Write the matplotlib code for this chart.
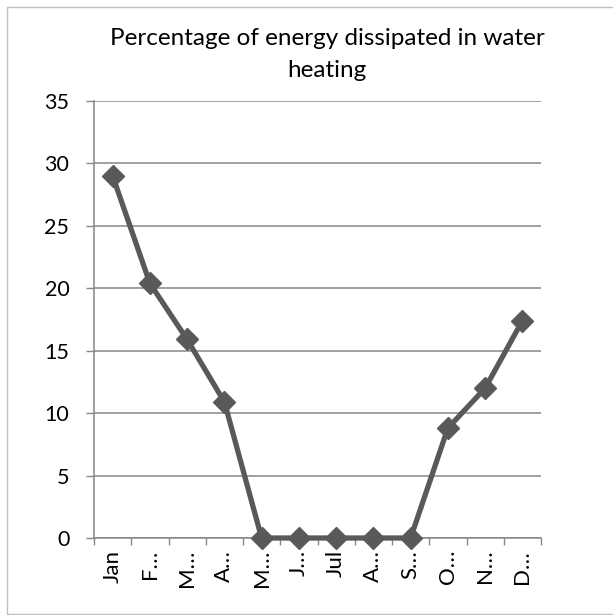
import matplotlib
matplotlib.use('Agg')
import matplotlib.pyplot as plt
from matplotlib.patches import Rectangle

# ---- data ----
months = ['Jan', 'F…', 'M…', 'A…', 'M…', 'J…', 'Jul', 'A…', 'S…', 'O…', 'N…', 'D…']
values = [29.0, 20.4, 15.9, 10.9, 0, 0, 0, 0, 0, 8.8, 12.0, 17.4]
yticks = [0, 5, 10, 15, 20, 25, 30, 35]
title_lines = ['Percentage of energy dissipated in water', 'heating']

W, H = 613, 615
plt.rcParams['font.family'] = ['Lato', 'DejaVu Sans']
fig = plt.figure(figsize=(W / 100, H / 100), dpi=100)

GRID = '#868686'
LINE = '#595959'

ax = fig.add_axes([94 / W, 1 - 538 / H, (541 - 94) / W, (538 - 101) / H])
x = list(range(len(months)))
ax.plot(x, values, color=LINE, lw=3.8, marker='D', ms=11, mfc=LINE, mec=LINE,
        solid_joinstyle='round', clip_on=False, zorder=3)
ax.set_xlim(-0.5, len(months) - 0.5)
ax.set_ylim(0, 35)
ax.set_yticks(yticks)
ax.set_xticks([i - 0.5 for i in range(len(months) + 1)])
ax.set_xticklabels([])
ax.set_xticks(x, minor=True)
ax.set_xticklabels(months, minor=True, rotation=90)
ax.tick_params(axis='x', which='minor', length=0, pad=8.5, labelsize=16, labelcolor='black')
ax.tick_params(axis='x', which='major', length=5, width=1, color=GRID)
ax.tick_params(axis='y', length=5.8, width=1, color=GRID, pad=12, labelsize=15.5, labelcolor='black')
ax.grid(axis='y', color=GRID, lw=1.1)
ax.set_axisbelow(True)
for s in ['top', 'right']:
    ax.spines[s].set_visible(False)
for s in ['left', 'bottom']:
    ax.spines[s].set_color(GRID)
    ax.spines[s].set_linewidth(1.1)

# title, fitted to the reference width
t1 = fig.text(327 / W, 1 - 45 / H, title_lines[0], ha='center', va='baseline', fontsize=16)
fig.canvas.draw()
w = t1.get_window_extent(fig.canvas.get_renderer()).width
fs = 16 * 438 / w
t1.set_fontsize(fs)
fig.text(327 / W, 1 - 77 / H, title_lines[1], ha='center', va='baseline', fontsize=fs)

# chart border
fig.patches.append(Rectangle((7 / W, 1 / H), (620 - 7) / W, (614 - 7) / H,
                             transform=fig.transFigure, fill=False,
                             edgecolor='#bfbfbf', lw=1))

fig.savefig('out.png', dpi=100)
